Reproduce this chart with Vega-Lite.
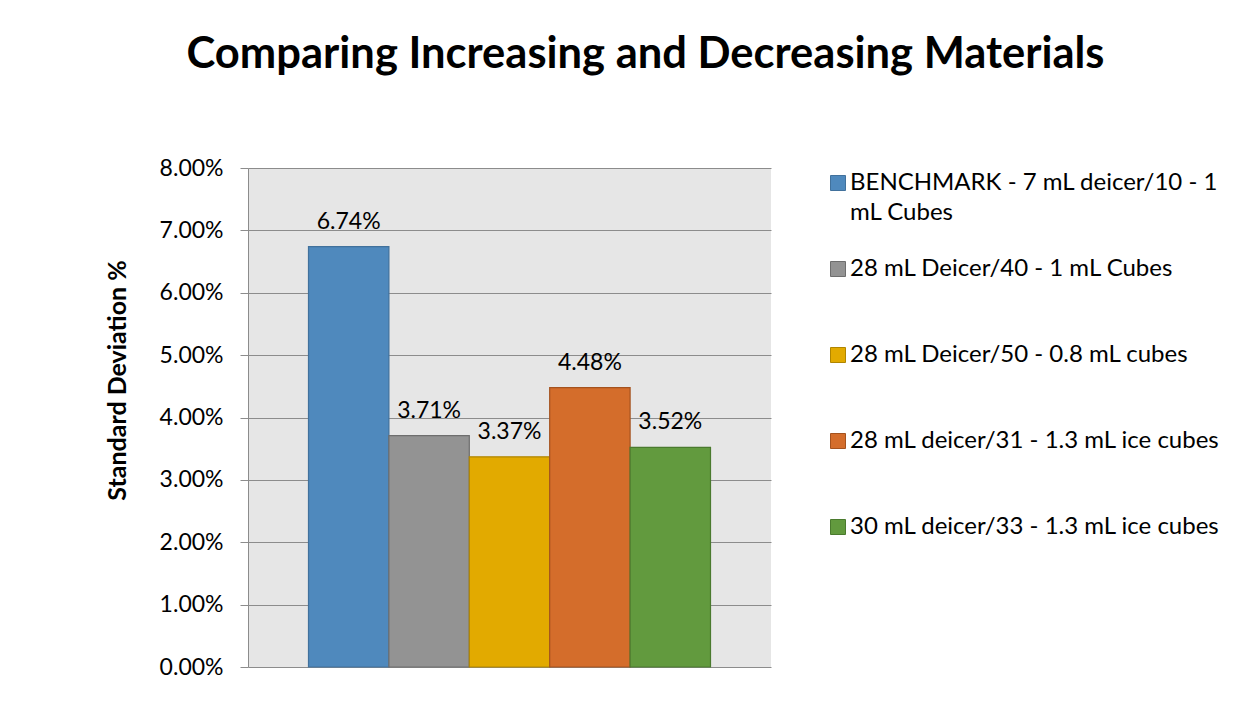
{
  "$schema": "https://vega.github.io/schema/vega-lite/v6.json",
  "width": 523,
  "height": 499,
  "autosize": {"type": "none"},
  "padding": {"left": 248, "top": 168, "right": 482, "bottom": 43},
  "background": "white",
  "title": {
    "text": "Comparing Increasing and Decreasing Materials",
    "font": "Lato",
    "fontWeight": "bold",
    "fontSize": 43.5,
    "color": "#000000",
    "anchor": "middle",
    "frame": "group",
    "dx": 136,
    "offset": 80
  },
  "data": {
    "values": [
      {"series": "BENCHMARK - 7 mL deicer/10 - 1 mL Cubes", "value": 0.0674},
      {"series": "28 mL Deicer/40 - 1 mL Cubes", "value": 0.0371},
      {"series": "28 mL Deicer/50 - 0.8 mL cubes", "value": 0.0337},
      {"series": "28 mL deicer/31 - 1.3 mL ice cubes", "value": 0.0448},
      {"series": "30 mL deicer/33 - 1.3 mL ice cubes", "value": 0.0352}
    ]
  },
  "encoding": {
    "x": {
      "field": "series",
      "type": "nominal",
      "sort": null,
      "scale": {"paddingInner": 0, "paddingOuter": 0.7525},
      "axis": null
    },
    "y": {
      "field": "value",
      "type": "quantitative",
      "scale": {"domain": [0, 0.08], "nice": false},
      "axis": {
        "title": "Standard Deviation %",
        "format": ".2%",
        "values": [0, 0.01, 0.02, 0.03, 0.04, 0.05, 0.06, 0.07, 0.08],
        "labelFont": "Lato",
        "labelFontSize": 23,
        "labelColor": "#000000",
        "labelPadding": 17,
        "tickSize": 8,
        "tickColor": "#8C8C8C",
        "domainColor": "#8C8C8C",
        "gridColor": "#8C8C8C",
        "grid": true,
        "titleFont": "Lato",
        "titleFontSize": 25,
        "titleFontWeight": "bold",
        "titleColor": "#000000",
        "titleAngle": 270,
        "titleX": -131,
        "titleY": 212,
        "titleAlign": "center",
        "titleBaseline": "middle"
      }
    }
  },
  "layer": [
    {
      "mark": {"type": "bar", "strokeWidth": 1.2},
      "encoding": {
        "fill": {
          "field": "series",
          "type": "nominal",
          "sort": null,
          "scale": {"range": ["#4F89BD", "#939393", "#E2AA00", "#D46D2B", "#629A3E"]},
          "legend": {
            "title": null,
            "orient": "none",
            "legendX": 578,
            "legendY": 3,
            "padding": 0,
            "symbolType": "square",
            "symbolSize": 225,
            "symbolStrokeWidth": 1,
            "labelFont": "Lato",
            "labelFontSize": 24,
            "labelColor": "#000000",
            "labelOffset": 0,
            "labelLimit": 450,
            "rowPadding": 32,
            "labelExpr": "datum.label == 'BENCHMARK - 7 mL deicer/10 - 1 mL Cubes' ? ['BENCHMARK - 7 mL deicer/10 - 1', 'mL Cubes'] : [datum.label, '']",
            "encode": {"labels": {"update": {"lineHeight": {"value": 30}}}}
          }
        },
        "stroke": {
          "field": "series",
          "type": "nominal",
          "sort": null,
          "scale": {"range": ["#41719C", "#6E6E6E", "#B08500", "#A4521E", "#4A7A2E"]},
          "legend": null
        }
      }
    },
    {
      "mark": {"type": "text", "baseline": "alphabetic", "dy": -18, "font": "Lato", "fontSize": 23, "color": "#000000"},
      "encoding": {
        "text": {"field": "value", "type": "quantitative", "format": ".2%"}
      }
    }
  ],
  "config": {
    "view": {"fill": "#E6E6E6", "stroke": null}
  }
}
